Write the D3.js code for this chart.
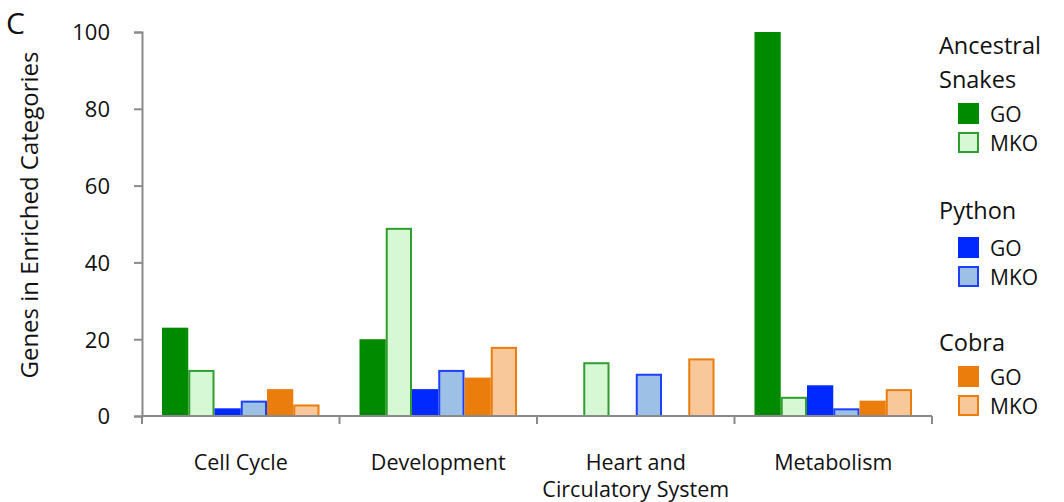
<!DOCTYPE html>
<html>
<head>
<meta charset="utf-8">
<script src="https://cdn.jsdelivr.net/npm/d3@7"></script>
<style>
  body { margin: 0; background: #fff; }
  svg text { font-family: "Open Sans", Lato, sans-serif; fill: #111; }
</style>
</head>
<body>
<svg id="chart" width="1064" height="502"></svg>
<script>
// Gene counts in enriched functional categories
const categories = ["Cell Cycle", "Development", "Heart and\nCirculatory System", "Metabolism"];
const seriesKeys = ["ancGO", "ancMKO", "pyGO", "pyMKO", "coGO", "coMKO"];
const ancestralGO  = [23, 20, 0, 100];
const ancestralMKO = [12, 49, 14, 5];
const pythonGO     = [2, 7, 0, 8];
const pythonMKO    = [4, 12, 11, 2];
const cobraGO      = [7, 10, 0, 4];
const cobraMKO     = [3, 18, 15, 7];
const yTicks = [0, 20, 40, 60, 80, 100];

const values = {
  ancGO: ancestralGO, ancMKO: ancestralMKO,
  pyGO: pythonGO, pyMKO: pythonMKO,
  coGO: cobraGO, coMKO: cobraMKO
};
const styles = {
  ancGO:  { fill: "#008a00", stroke: "none" },
  ancMKO: { fill: "#d6f8d4", stroke: "#2f9e2f" },
  pyGO:   { fill: "#0029ff", stroke: "none" },
  pyMKO:  { fill: "#9dc1e6", stroke: "#1c40ff" },
  coGO:   { fill: "#ea7d0c", stroke: "none" },
  coMKO:  { fill: "#f8c79a", stroke: "#ea7d0c" }
};

const svg = d3.select("#chart");
const axisColor = "#8a8a8a";

const x0 = d3.scaleBand().domain(categories).range([142, 932]).padding(0);
const x1 = d3.scaleBand().domain(seriesKeys).range([20, x0.bandwidth() - 20]).padding(0);
const y = d3.scaleLinear().domain([0, 100]).range([416, 32]);

// Bars
const groups = svg.append("g").selectAll("g")
  .data(categories)
  .join("g")
  .attr("transform", d => `translate(${x0(d)},0)`);

groups.selectAll("rect")
  .data((c, i) => seriesKeys.map(k => ({ key: k, value: values[k][i] })).filter(d => d.value > 0))
  .join("rect")
  .attr("x", d => x1(d.key) + (styles[d.key].stroke === "none" ? 0 : 1))
  .attr("width", d => x1.bandwidth() - (styles[d.key].stroke === "none" ? 0 : 2))
  .attr("y", d => y(d.value) + (styles[d.key].stroke === "none" ? 0 : 1))
  .attr("height", d => y(0) - y(d.value) - (styles[d.key].stroke === "none" ? 0 : 1))
  .attr("fill", d => styles[d.key].fill)
  .attr("stroke", d => styles[d.key].stroke)
  .attr("stroke-width", 2);

// Y axis
const yAxis = svg.append("g")
  .attr("transform", "translate(142,0)")
  .call(d3.axisLeft(y).tickValues(yTicks).tickSize(8).tickPadding(24));
yAxis.select(".domain").attr("stroke", axisColor).attr("stroke-width", 2);
yAxis.selectAll(".tick line").attr("stroke", axisColor).attr("stroke-width", 2);
yAxis.selectAll(".tick text").attr("font-size", 22).attr("dy", "0.36em")
  .style("font-family", "'Open Sans', sans-serif").attr("fill", "#111");

// X axis: baseline with ticks at category boundaries
const xg = svg.append("g");
xg.append("line")
  .attr("x1", 142).attr("x2", 932)
  .attr("y1", y(0)).attr("y2", y(0))
  .attr("stroke", axisColor).attr("stroke-width", 2);
const bounds = categories.map(c => x0(c)).concat([x0(categories[categories.length - 1]) + x0.bandwidth()]);
xg.selectAll("line.tk")
  .data(bounds)
  .join("line")
  .attr("class", "tk")
  .attr("x1", d => d).attr("x2", d => d)
  .attr("y1", y(0)).attr("y2", y(0) + 8)
  .attr("stroke", axisColor).attr("stroke-width", 2);

// Category labels
xg.selectAll("text.cat")
  .data(categories)
  .join("text")
  .attr("class", "cat")
  .attr("text-anchor", "middle")
  .attr("font-size", 21.5)
  .attr("transform", d => `translate(${x0(d) + x0.bandwidth() / 2},470)`)
  .each(function (d) {
    d.split("\n").forEach((line, i) => {
      d3.select(this).append("tspan").attr("x", 0).attr("y", i * 27).text(line);
    });
  });

// Y axis title
svg.append("text")
  .attr("transform", "translate(38,215) rotate(-90)")
  .attr("text-anchor", "middle")
  .attr("font-size", 24)
  .text("Genes in Enriched Categories");

// Panel letter
svg.append("text")
  .attr("x", 6).attr("y", 34)
  .attr("font-size", 30)
  .text("C");

// Legend
const legendGroups = [
  { title: ["Ancestral", "Snakes"], titleY: [54, 88], keys: ["ancGO", "ancMKO"], swY: [103, 132] },
  { title: ["Python"], titleY: [219], keys: ["pyGO", "pyMKO"], swY: [237, 266] },
  { title: ["Cobra"], titleY: [351], keys: ["coGO", "coMKO"], swY: [366, 395] }
];
const legend = svg.append("g");
legendGroups.forEach(g => {
  g.title.forEach((t, i) => {
    legend.append("text").attr("x", 939).attr("y", g.titleY[i]).attr("font-size", 23.5).text(t);
  });
  g.keys.forEach((k, i) => {
    const s = styles[k];
    const stroked = s.stroke !== "none";
    legend.append("rect")
      .attr("x", 958 + (stroked ? 1 : 0)).attr("y", g.swY[i] + (stroked ? 1 : 0))
      .attr("width", stroked ? 19 : 21).attr("height", stroked ? 19 : 21)
      .attr("fill", s.fill).attr("stroke", s.stroke).attr("stroke-width", 2);
    legend.append("text").attr("x", 990).attr("y", g.swY[i] + 19)
      .attr("font-size", 21).text(i === 0 ? "GO" : "MKO");
  });
});
</script>
</body>
</html>
